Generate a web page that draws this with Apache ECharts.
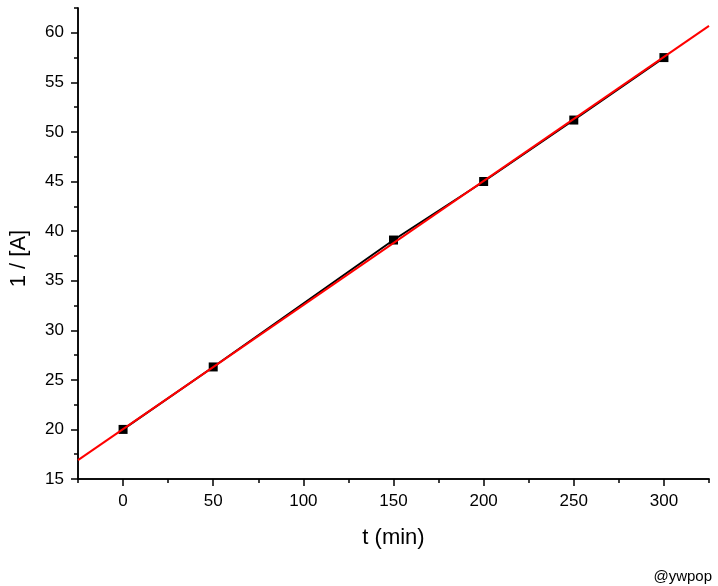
<!DOCTYPE html>
<html>
<head>
<meta charset="utf-8">
<script src="https://cdn.jsdelivr.net/npm/echarts@6/dist/echarts.min.js"></script>
<style>html,body{margin:0;padding:0;background:#fff}#c{width:718px;height:586px}</style>
</head>
<body>
<div id="c"></div>
<script>
const timeMin = [0, 50, 150, 200, 250, 300];
const invA = [20.0, 26.3, 39.1, 45.0, 51.2, 57.5];
const fitX = [-25, 325];
const fitY = [16.9, 60.7];
const xTicks = [0, 50, 100, 150, 200, 250, 300];
const yTicks = [15, 20, 25, 30, 35, 40, 45, 50, 55, 60];

const chart = echarts.init(document.getElementById('c'));
const font = 'Arial, "Liberation Sans", sans-serif';
const lineStyle = {color: '#000', width: 1.5};
chart.setOption({
  animation: false,
  grid: {left: 77, right: 9, top: 8, bottom: 107},
  xAxis: [
    {type: 'value', min: -25, max: 325, interval: 25, position: 'bottom',
     axisLine: {show: true, onZero: false, lineStyle},
     axisTick: {show: true, length: 4, lineStyle},
     axisLabel: {show: false}, splitLine: {show: false}},
    {type: 'value', min: -25, max: 325, position: 'bottom', offset: 0,
     name: 't (min)', nameLocation: 'middle', nameGap: 48,
     nameTextStyle: {fontFamily: font, fontSize: 22, color: '#000'},
     axisLine: {show: true, onZero: false, lineStyle},
     axisTick: {show: true, length: 7, lineStyle, customValues: xTicks},
     axisLabel: {show: true, customValues: xTicks, fontFamily: font, fontSize: 17, color: '#000', margin: 14},
     splitLine: {show: false}}
  ],
  yAxis: [
    {type: 'value', min: 15, max: 62.5, interval: 2.5, position: 'left',
     axisLine: {show: true, onZero: false, lineStyle},
     axisTick: {show: true, length: 4, lineStyle},
     axisLabel: {show: false}, splitLine: {show: false}},
    {type: 'value', min: 15, max: 62.5, position: 'left', offset: 0,
     name: '1 / [A]', nameLocation: 'middle', nameGap: 48,
     nameTextStyle: {fontFamily: font, fontSize: 22, color: '#000', padding: [0, 30, 0, 0]},
     axisLine: {show: true, onZero: false, lineStyle},
     axisTick: {show: true, length: 7, lineStyle, customValues: yTicks},
     axisLabel: {show: true, customValues: yTicks, fontFamily: font, fontSize: 17, color: '#000', margin: 14},
     splitLine: {show: false}}
  ],
  series: [
    {type: 'line', xAxisIndex: 0, yAxisIndex: 0,
     data: timeMin.map((t, i) => [t, invA[i]]),
     symbol: 'rect', symbolSize: 9, itemStyle: {color: '#000'},
     lineStyle: {color: '#000', width: 2}, z: 2},
    {type: 'line', xAxisIndex: 0, yAxisIndex: 0,
     data: fitX.map((t, i) => [t, fitY[i]]),
     symbol: 'none', lineStyle: {color: '#ff0000', width: 2}, z: 3}
  ],
  graphic: [{type: 'text', right: 6, bottom: 2,
    style: {text: '@ywpop', font: '15px ' + font, fill: '#000'}}]
});
</script>
</body>
</html>
